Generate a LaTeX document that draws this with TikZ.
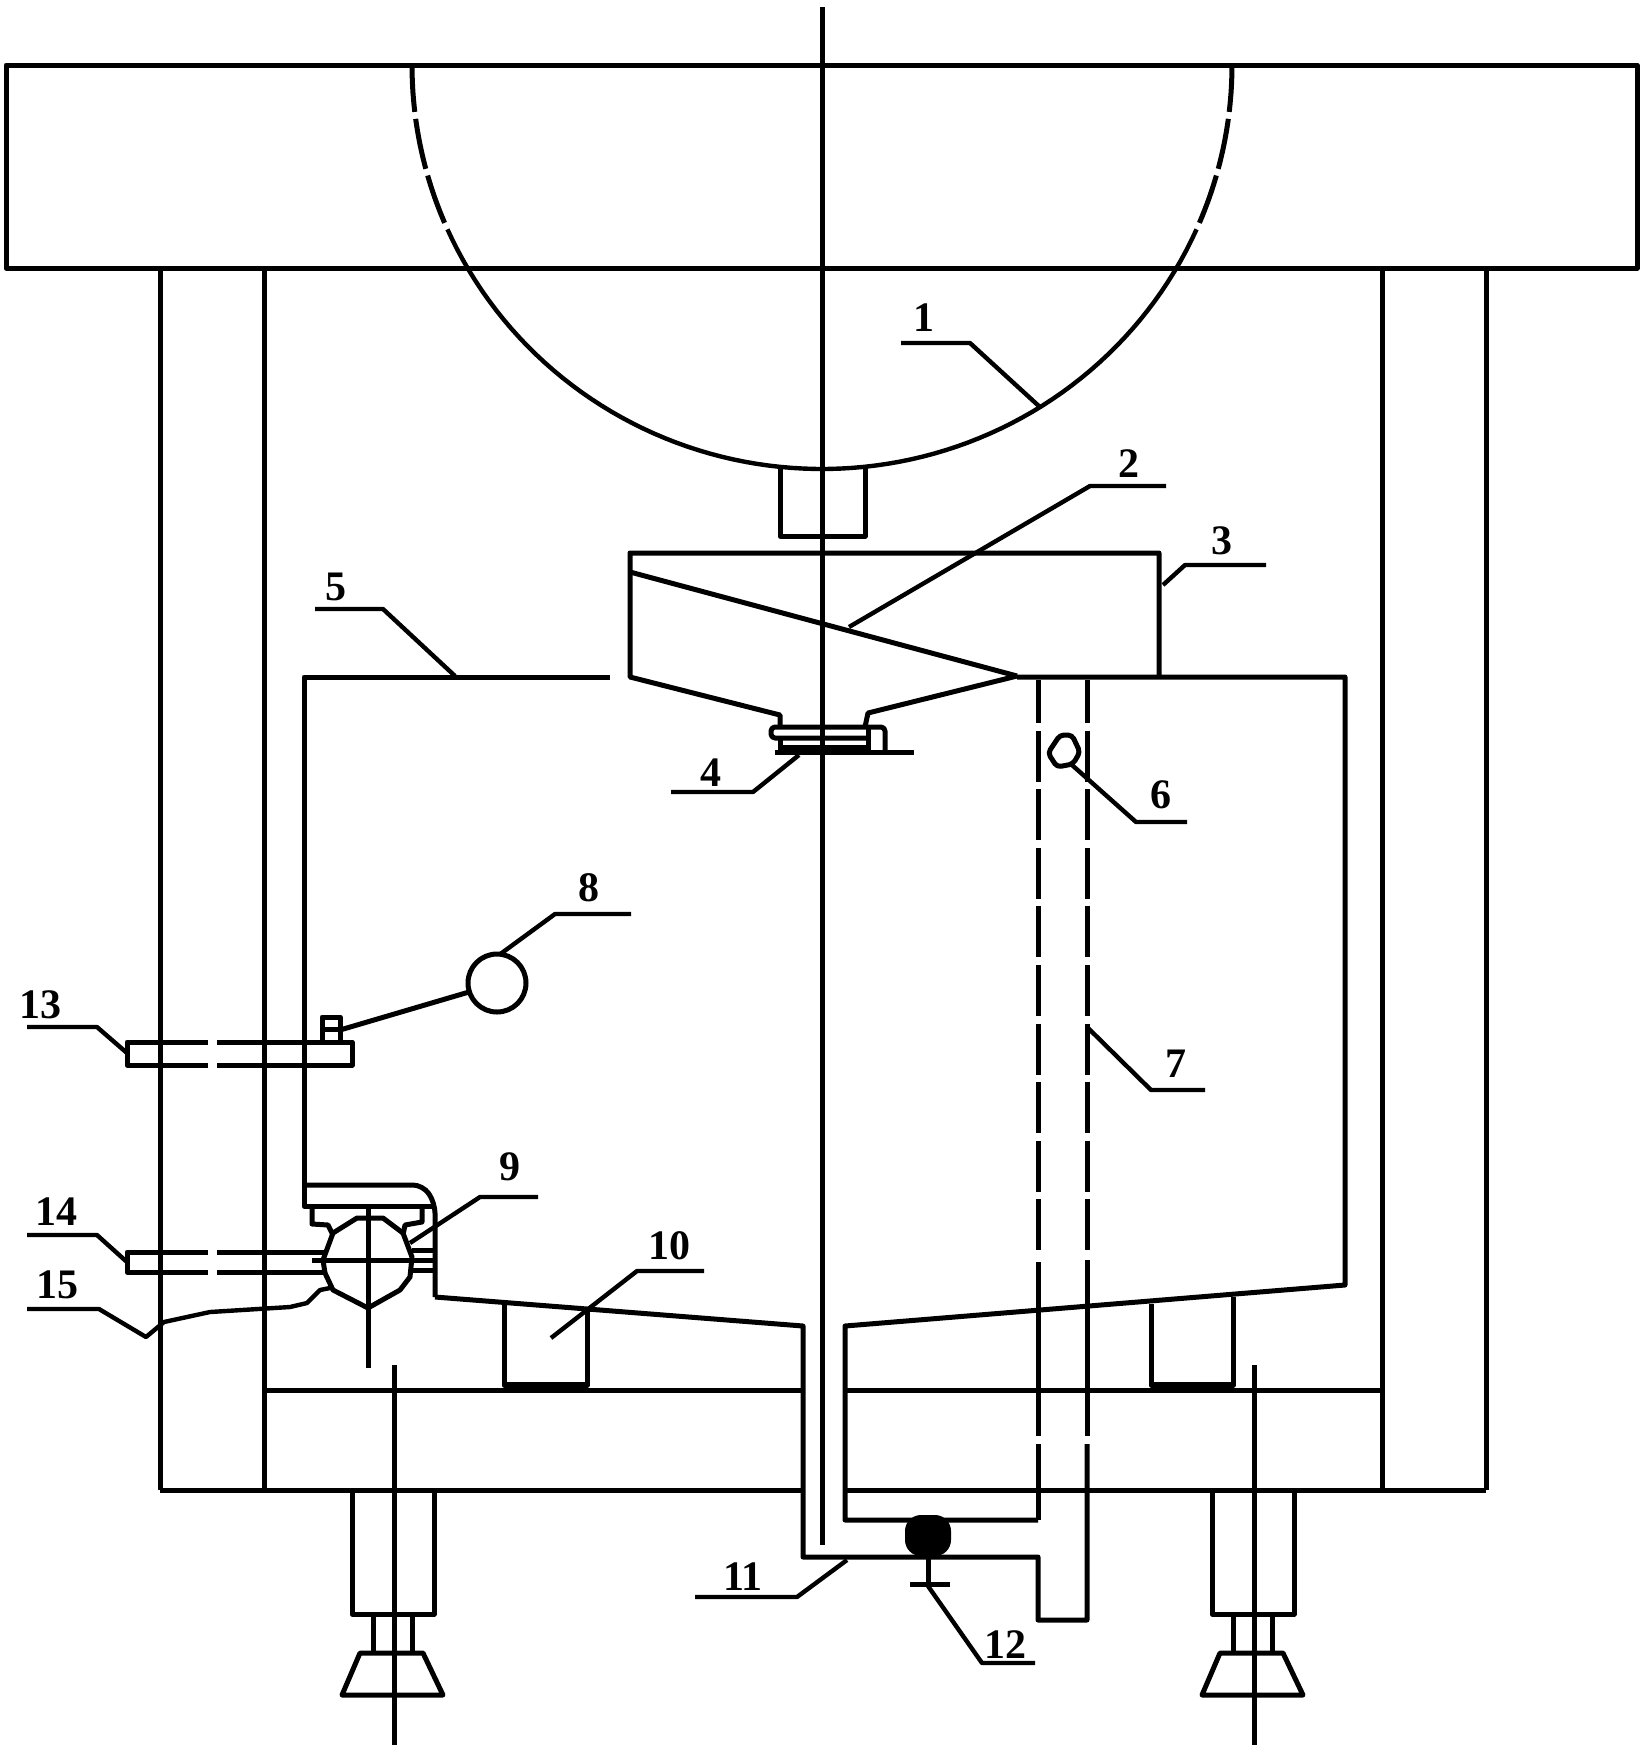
\documentclass[tikz,border=0pt]{standalone}
\usepackage{fontspec}
\setmainfont{Liberation Serif}

\begin{document}
\begin{tikzpicture}[
            x = 0.5pt, % one unit is one pixel of the drawing
            y = -0.5pt,
            line join = round,
            line width = 2.5pt % line style
        ]

        \tikzstyle{leader}=[
            line width = 2.2pt
        ]
        \tikzstyle{number}=[
            font = \fontsize{21}{21}\selectfont\bfseries,
            inner sep = 0pt
        ]
        \tikzstyle{hidden}=[
            dash pattern = on 25.5pt off 3.8pt,
            dash phase = 4pt
        ]
        \tikzstyle{bowlrim}=[
            dash pattern = on 25.5pt off 3.5pt,
            dash phase = 2pt
        ]

        \useasboundingbox (0,0) rectangle (1645,1752);

        % top frame and columns
        \draw (6,65) rectangle (1637,268);
        \draw (160,268) -- (160,1490);
        \draw (264,268) -- (264,1490);
        \draw (1382,268) -- (1382,1490);
        \draw (1486,268) -- (1486,1490);

        % bowl
        \draw[bowlrim] plot[domain = 180:157, samples = 30] ({822 + 410*cos(\x)}, {65 + 404*sin(180 - \x)});
        \draw[bowlrim] plot[domain = 0:23, samples = 30] ({822 + 410*cos(\x)}, {65 + 404*sin(\x)});
        \draw[leader] plot[domain = 24:156, samples = 80] ({822 + 410*cos(\x)}, {65 + 404*sin(\x)});
        \draw (780,466) -- (780,536) -- (865,536) -- (865,466);

        % center line
        \draw (822,7) -- (822,1545);

        % hopper
        \draw (1159,677) -- (1159,553) -- (630,553) -- (630,677) -- (780,715) -- (780,727);
        \draw (630,572) -- (1017,676);
        \draw (1017,676) -- (868,713) -- (865,727);

        % valve
        \draw[rounded corners = 2pt] (885,752) -- (885,727) -- (771,727) -- (771,738) -- (868,738);
        \draw (780,738) -- (780,750);
        \draw (780,747) -- (868,747);
        \draw (868,727) -- (868,752);
        \draw (775,752) -- (914,752);

        % tank
        \draw (610,677) -- (304,677) -- (304,1206) -- (435,1206);
        \draw (1017,677) -- (1345,677) -- (1345,1285) -- (845,1326) -- (845,1520) -- (1038,1520);
        \draw[rounded corners = 5pt] (304,1185) -- (423,1185) -- (435,1203) -- (435,1297);
        \draw (435,1297) -- (803,1326) -- (803,1557) -- (1038,1557) -- (1038,1620) -- (1087,1620) -- (1087,1444);

        % shaft
        \draw[hidden] (1038,680) -- (1038,1254);
        \draw[hidden] (1087,680) -- (1087,1252);
        \draw (1038,1262) -- (1038,1436);
        \draw (1087,1260) -- (1087,1436);
        \draw (1038,1444) -- (1038,1520);

        % base plate
        \draw (264,1390) -- (803,1390);
        \draw (845,1390) -- (1382,1390);
        \draw (160,1490) -- (803,1490);
        \draw (845,1490) -- (1486,1490);

        % blocks on the plate
        \draw (504,1304) -- (504,1385) -- (587,1385) -- (587,1310);
        \draw (1151,1304) -- (1151,1385) -- (1233,1385) -- (1233,1297);
        \draw[line width = 3.4pt] (504,1385) -- (587,1385);
        \draw[line width = 3.4pt] (1151,1385) -- (1233,1385);

        % float 8
        \draw (497,983) circle [radius = 14.5pt];
        \draw (340,1030) -- (469,992);
        \draw (322,1042) -- (322,1017) -- (340,1017) -- (340,1042);
        \draw (322,1029) -- (340,1029);

        % rod 13
        \draw (208,1042) -- (127,1042) -- (127,1065) -- (208,1065);
        \draw (217,1042) -- (352,1042) -- (352,1065) -- (217,1065);

        % ball 9 and rod 14
        \draw (323,1260) -- (333,1233) -- (357,1218) -- (383,1218) -- (403,1233) -- (412,1257) -- (410,1277) -- (400,1290) -- (368,1308) -- (333,1290) -- (325,1273) -- cycle;
        \draw (368,1206) -- (368,1368);
        \draw (312,1260) -- (435,1260);
        \draw (412,1250) -- (435,1250);
        \draw (412,1270) -- (435,1270);
        \draw (312,1206) -- (312,1224) -- (328,1225) -- (333,1235);
        \draw (422,1206) -- (422,1222) -- (405,1225) -- (403,1235);
        \draw (208,1252) -- (127,1252) -- (127,1272) -- (208,1272);
        \draw (217,1252) -- (325,1252);
        \draw (217,1272) -- (325,1272);

        % float 6
        \draw[rounded corners = 2pt] (1060,735) -- (1072,735) -- (1080,752) -- (1073,764) -- (1057,767) -- (1048,753) -- cycle;

        % valve 12
        \fill[rounded corners = 8pt] (905,1515) rectangle (951,1556);
        \draw (928,1557) -- (928,1584);
        \draw (910,1584) -- (950,1584);

        % left foot
        \draw (394,1365) -- (394,1745);
        \draw (352,1490) -- (352,1614) -- (434,1614) -- (434,1490);
        \draw (373,1614) -- (373,1653);
        \draw (412,1614) -- (412,1653);
        \draw (360,1653) -- (423,1653) -- (443,1695) -- (342,1695) -- cycle;

        % right foot
        \draw (1254,1365) -- (1254,1745);
        \draw (1212,1490) -- (1212,1614) -- (1294,1614) -- (1294,1490);
        \draw (1233,1614) -- (1233,1653);
        \draw (1272,1614) -- (1272,1653);
        \draw (1220,1653) -- (1283,1653) -- (1303,1695) -- (1202,1695) -- cycle;

        % leaders
        \draw[leader] (901,343) -- (970,343) -- (1041,408);
        \draw[leader] (1166,486) -- (1090,486) -- (849,627);
        \draw[leader] (1266,565) -- (1185,565) -- (1163,585);
        \draw[leader] (671,792) -- (753,792) -- (799,755);
        \draw[leader] (315,609) -- (383,609) -- (455,676);
        \draw[leader] (1187,822) -- (1136,822) -- (1072,765);
        \draw[leader] (1205,1090) -- (1151,1090) -- (1087,1027);
        \draw[leader] (631,914) -- (555,914) -- (499,955);
        \draw[leader] (538,1197) -- (480,1197) -- (410,1243);
        \draw[leader] (704,1271) -- (637,1271) -- (551,1338);
        \draw[leader] (695,1597) -- (797,1597) -- (847,1560);
        \draw[leader] (1035,1663) -- (982,1663) -- (928,1586);
        \draw[leader] (27,1027) -- (97,1027) -- (127,1053);
        \draw[leader] (27,1235) -- (97,1235) -- (127,1262);
        \draw[leader] (27,1309) -- (99,1309) -- (146,1337) -- (164,1322) -- (210,1312) -- (290,1307) -- (307,1303) -- (320,1290) -- (330,1288);

        % numbers
        \node[number] (n1) at (924,318) {1};
        \node[number] (n2) at (1129,464) {2};
        \node[number] (n3) at (1222,541) {3};
        \node[number] (n4) at (711,773) {4};
        \node[number] (n5) at (336,587) {5};
        \node[number] (n6) at (1161,795) {6};
        \node[number] (n7) at (1176,1064) {7};
        \node[number] (n8) at (589,888) {8};
        \node[number] (n9) at (510,1167) {9};
        \node[number] (n10) at (669,1246) {10};
        \node[number] (n11) at (743,1577) {11};
        \node[number] (n12) at (1005,1645) {12};
        \node[number] (n13) at (40,1005) {13};
        \node[number] (n14) at (56,1212) {14};
        \node[number] (n15) at (57,1285) {15};
    \end{tikzpicture}
\end{document}
